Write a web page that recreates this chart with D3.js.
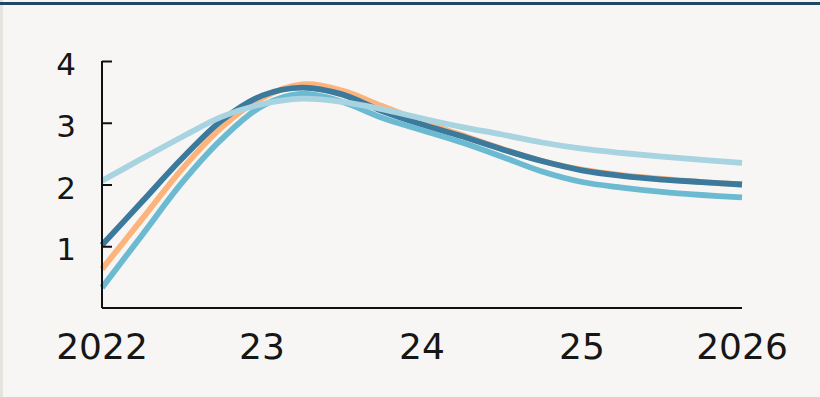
<!DOCTYPE html>
<html>
<head>
<meta charset="utf-8">
<script src="https://cdn.jsdelivr.net/npm/d3@7"></script>
<style>
  html, body { margin: 0; padding: 0; background: #f7f6f4; }
  svg { display: block; }
  text { font-family: "DejaVu Sans", sans-serif; fill: #161616; }
</style>
</head>
<body>
<svg id="chart" width="820" height="397"></svg>
<script>
// Quarterly time points, 2022 to 2026
const quarters = [2022, 2022.25, 2022.5, 2022.75, 2023, 2023.25, 2023.5, 2023.75,
                  2024, 2024.25, 2024.5, 2024.75, 2025, 2025.25, 2025.5, 2025.75, 2026];

const seriesOrange = [0.63, 1.44, 2.25, 2.93, 3.40, 3.62, 3.52, 3.27, 3.02, 2.80, 2.58, 2.38, 2.24, 2.15, 2.09, 2.04, 2.00];
const seriesDark   = [1.02, 1.72, 2.42, 3.04, 3.44, 3.57, 3.46, 3.19, 2.97, 2.78, 2.57, 2.38, 2.23, 2.14, 2.08, 2.04, 2.00];
const seriesMedium = [0.33, 1.18, 2.03, 2.74, 3.27, 3.47, 3.34, 3.08, 2.88, 2.68, 2.45, 2.21, 2.04, 1.95, 1.88, 1.83, 1.79];
const seriesLight  = [2.06, 2.42, 2.77, 3.10, 3.30, 3.39, 3.34, 3.22, 3.07, 2.93, 2.81, 2.68, 2.58, 2.51, 2.45, 2.40, 2.35];

const xTickValues = [2022, 2023, 2024, 2025, 2026];
const xTickLabels = ["2022", "23", "24", "25", "2026"];
const yTickValues = [1, 2, 3, 4];

const series = [
  { name: "orange", values: seriesOrange, color: "#fcb47c" },
  { name: "dark",   values: seriesDark,   color: "#3b7a9c" },
  { name: "medium", values: seriesMedium, color: "#6cbad1" },
  { name: "light",  values: seriesLight,  color: "#a8d3e1" }
];

const svg = d3.select("#chart");
const W = 820, H = 397;

// background & frame decorations
svg.append("rect").attr("x", 0).attr("y", 0).attr("width", W).attr("height", H).attr("fill", "#f7f6f4");
svg.append("rect").attr("x", 0).attr("y", 0).attr("width", 3).attr("height", H).attr("fill", "#e6e4df");
svg.append("rect").attr("x", 0).attr("y", 2).attr("width", W).attr("height", 3).attr("fill", "#1d4866");

const x = d3.scaleLinear().domain([2022, 2026]).range([102, 742]);
const y = d3.scaleLinear().domain([0, 4]).range([308, 61]);

// lines
const line = d3.line()
  .x((d, i) => x(quarters[i]))
  .y(d => y(d))
  .curve(d3.curveCatmullRom.alpha(0.5));

svg.append("g")
  .selectAll("path")
  .data(series)
  .join("path")
  .attr("d", d => line(d.values))
  .attr("fill", "none")
  .attr("stroke", d => d.color)
  .attr("stroke-width", 5.8)
  .attr("stroke-linejoin", "round");

// y axis (ticks pointing inward)
const yAxis = svg.append("g")
  .attr("transform", `translate(${x(2022)},0)`)
  .call(d3.axisRight(y).tickValues(yTickValues).tickSize(10).tickFormat(""));
yAxis.select(".domain").remove();
yAxis.selectAll("line").attr("stroke", "#111").attr("stroke-width", 2);
svg.append("line")
  .attr("x1", x(2022)).attr("x2", x(2022))
  .attr("y1", y(4)).attr("y2", y(0))
  .attr("stroke", "#111").attr("stroke-width", 2);

svg.append("g")
  .selectAll("text")
  .data(yTickValues)
  .join("text")
  .attr("x", 76)
  .attr("y", d => y(d) + 3)
  .attr("dy", "0.36em")
  .attr("text-anchor", "end")
  .attr("font-size", 31)
  .text(d => d);

// x axis
svg.append("line")
  .attr("x1", x(2022)).attr("x2", x(2026))
  .attr("y1", y(0)).attr("y2", y(0))
  .attr("stroke", "#111").attr("stroke-width", 2);

svg.append("g")
  .selectAll("text")
  .data(xTickValues)
  .join("text")
  .attr("x", d => x(d))
  .attr("y", 359)
  .attr("text-anchor", "middle")
  .attr("font-size", 36)
  .text((d, i) => xTickLabels[i]);
</script>
</body>
</html>
